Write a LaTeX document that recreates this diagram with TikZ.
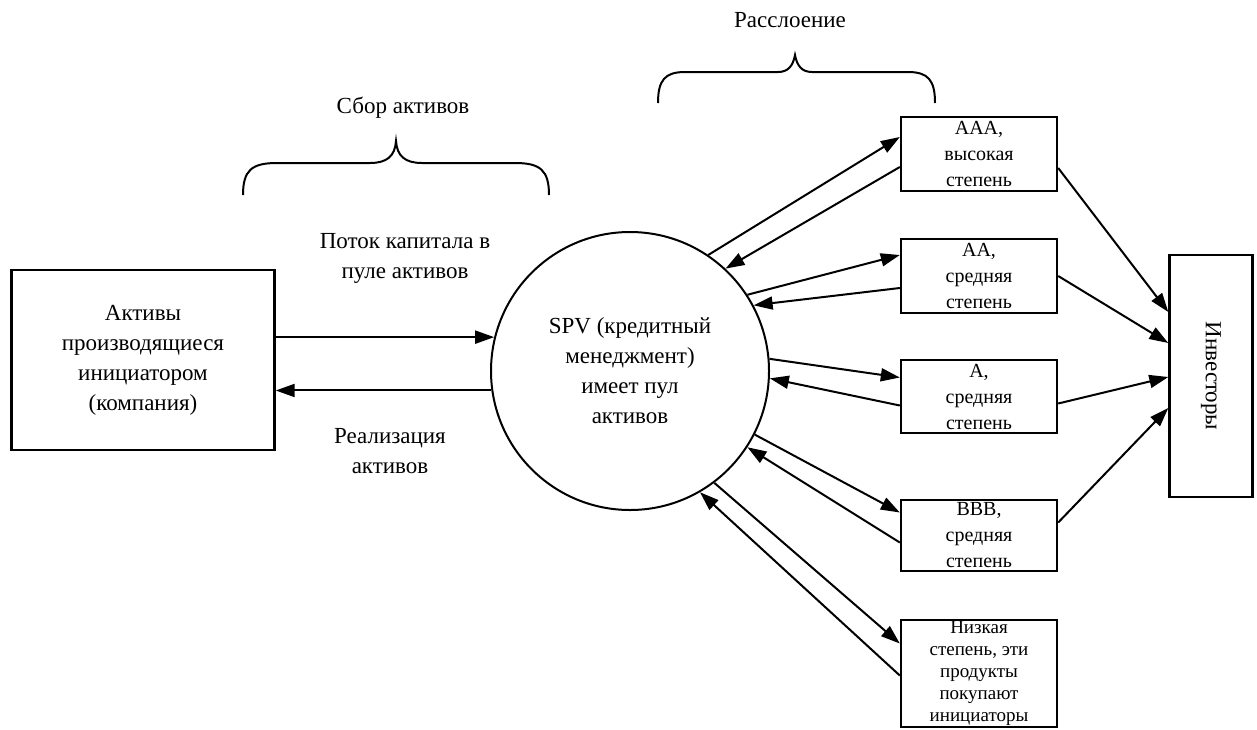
\documentclass[tikz,border=0pt]{standalone}
\usepackage{fontspec}
\setmainfont{Liberation Serif}
\usetikzlibrary{arrows.meta,positioning}

\tikzset{
  flow/.style={line width=2pt, -{Triangle[length=19pt,width=13pt]}},
  bigtext/.style={font=\fontsize{23}{30}\selectfont, align=center},
  tranche/.style={draw, line width=2.4pt, minimum width=156pt, inner sep=0pt,
    align=center, font=\fontsize{20}{26}\selectfont},
}

\begin{document}
\begin{tikzpicture}[x=1pt,y=-1pt]
        \useasboundingbox (0,0) rectangle (1257,729);
        % Main blocks
        \node[draw, line width=2.4pt, minimum width=263pt, minimum height=180pt, bigtext] (ini) at (143,360) {Активы\\производящиеся\\инициатором\\(компания)};
        \node[draw, circle, line width=2pt, minimum size=278pt, inner sep=0pt, bigtext] (spv) at (630,371) {SPV (кредитный\\менеджмент)\\имеет пул\\активов};
        % Tranches
        \node[tranche, minimum height=74pt] (aaa) at (979,154) {AAA,\\высокая\\степень};
        \node[tranche, minimum height=74pt] (aa) at (979,276) {AA,\\средняя\\степень};
        \node[tranche, minimum height=73pt] (a) at (979,396.5) {A,\\средняя\\степень};
        \node[tranche, minimum height=71pt] (bbb) at (979,535.5) {BBB,\\средняя\\степень};
        \node[tranche, minimum height=107pt, font=\fontsize{19}{22}\selectfont] (low) at (979,673.5) {Низкая\\степень, эти\\продукты\\покупают\\инициаторы};
        \node[draw, line width=2.4pt, minimum width=83pt, minimum height=242pt] (inv) at (1211,376) {};
        \node[rotate=-90, font=\fontsize{23}{30}\selectfont] (invtext) at (inv.center) {Инвесторы};
        % Labels
        \node[bigtext] (flowlbl) at (405,258) {Поток капитала в\\пуле активов};
        \node[bigtext] (reallbl) at (390,451) {Реализация\\активов};
        \node[bigtext] (poollbl) at (403,108) {Сбор активов};
        \node[bigtext] (tranchlbl) at (790,20) {Расслоение};
        % Braces
        \draw[line width=2pt] (243,195) .. controls (243,170) and (252,163) .. (277,163) -- (370,163)
            .. controls (387,163) and (395,156) .. (396,141) .. controls (397,156) and (405,163) .. (422,163)
            -- (515,163) .. controls (540,163) and (549,170) .. (549,195);
        \draw[line width=2pt] (658,103) .. controls (658,80) and (665,72) .. (685,72) -- (778,72)
            .. controls (788,72) and (793,66) .. (795,55) .. controls (797,66) and (802,72) .. (812,72)
            -- (908,72) .. controls (928,72) and (935,80) .. (935,103);
        % Initiator and SPV
        \draw[flow] (spv.166 -| ini.east) -- (spv.166);
        \draw[flow] (spv.188) -- (spv.188 -| ini.east);
        % SPV and tranches
        \draw[flow] (spv.56) -- ([yshift=17pt]aaa.west);
        \draw[flow] ([yshift=-13pt]aaa.west) -- (spv.47);
        \draw[flow] (spv.33) -- ([yshift=21pt]aa.west);
        \draw[flow] ([yshift=-12pt]aa.west) -- (spv.28);
        \draw[flow] (spv.5) -- ([yshift=19pt]a.west);
        \draw[flow] ([yshift=-9pt]a.west) -- (spv.-3);
        \draw[flow] (spv.-27) -- ([yshift=23pt]bbb.west);
        \draw[flow] ([yshift=-7pt]bbb.west) -- (spv.-33);
        \draw[flow] (spv.-53) -- ([yshift=30pt]low.west);
        \draw[flow] ([yshift=-2pt]low.west) -- (spv.-60);
        % Tranches and investors
        \draw[flow] ([yshift=-14pt]aaa.east) -- ([yshift=64pt]inv.west);
        \draw[flow] (aa.east) -- ([yshift=33pt]inv.west);
        \draw[flow] ([yshift=-7pt]a.east) -- ([yshift=-1pt]inv.west);
        \draw[flow] ([yshift=13pt]bbb.east) -- ([yshift=-32pt]inv.west);
    \end{tikzpicture}
\end{document}
